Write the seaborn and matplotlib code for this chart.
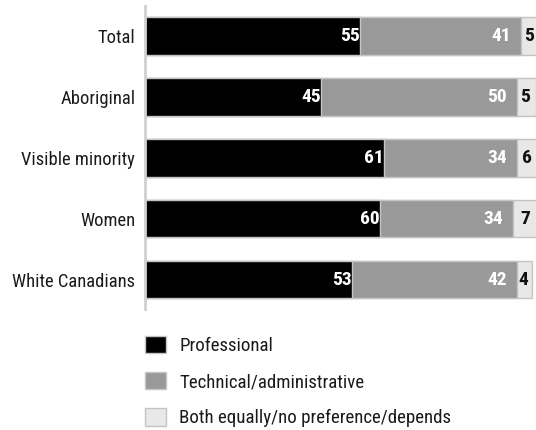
import matplotlib
matplotlib.use("Agg")
import matplotlib.pyplot as plt
from matplotlib.patches import Patch
import seaborn as sns
import pandas as pd

groups = ["Total", "Aboriginal", "Visible minority", "Women", "White Canadians"]
professional = [55, 45, 61, 60, 53]
technical = [41, 50, 34, 34, 42]
both_equally = [5, 5, 6, 7, 4]

series_names = ["Professional", "Technical/administrative",
                "Both equally/no preference/depends"]
colors = ["#000000", "#999999", "#e8e8e8"]

sns.set_theme(style="white")
plt.rcParams["font.family"] = ["Roboto Condensed", "DejaVu Sans"]

df = pd.DataFrame({
    "group": groups,
    "professional": professional,
    "technical": technical,
    "both": both_equally,
})
df["end_pro"] = df["professional"]
df["end_tech"] = df["professional"] + df["technical"]
df["end_both"] = df["end_tech"] + df["both"]

fig = plt.figure(figsize=(5.36, 4.30), dpi=100)
ax = fig.add_axes([0.2705, 0.281, 0.7295, 0.705])

edge = "#c4c4c4"
# stacked bars: draw cumulative totals from widest to narrowest
for col, c in zip(["end_both", "end_tech", "end_pro"], colors[::-1]):
    sns.barplot(data=df, x=col, y="group", order=groups, orient="h",
                color=c, saturation=1, width=0.61, edgecolor=edge,
                linewidth=1.0, ax=ax)

ax.set_xlim(0, 99.9)
ax.set_ylim(4.48, -0.49)
ax.set_xlabel("")
ax.set_ylabel("")
ax.set_xticks([])
ax.tick_params(axis="y", length=0, pad=7, labelsize=13.3, labelcolor="#1a1a1a")

for s in ["top", "right", "bottom"]:
    ax.spines[s].set_visible(False)
ax.spines["left"].set_color("#d0d0d0")
ax.spines["left"].set_linewidth(2)

label_kw = dict(va="center", fontsize=14, fontweight="bold")
for i, row in df.iterrows():
    ax.text(row["end_pro"] - 0.1, i, f"{row['professional']}", color="white",
            ha="right", **label_kw)
    ax.text(row["end_tech"] - 2.5, i, f"{row['technical']}", color="white",
            ha="right", **label_kw)
    ax.text(row["end_tech"] + row["both"] / 2 - 0.3, i, f"{row['both']}",
            color="#111111", ha="center", clip_on=False, **label_kw)

handles = [Patch(facecolor=c, edgecolor=edge, linewidth=1.0) for c in colors]
fig.legend(handles, series_names, loc="upper left",
           bbox_to_anchor=(0.2565, 0.237), frameon=False, fontsize=13.6,
           handlelength=1.1, handleheight=1.05, handletextpad=0.7,
           labelspacing=0.9, borderaxespad=0, labelcolor="#1a1a1a")

fig.savefig("out.png", dpi=100)
